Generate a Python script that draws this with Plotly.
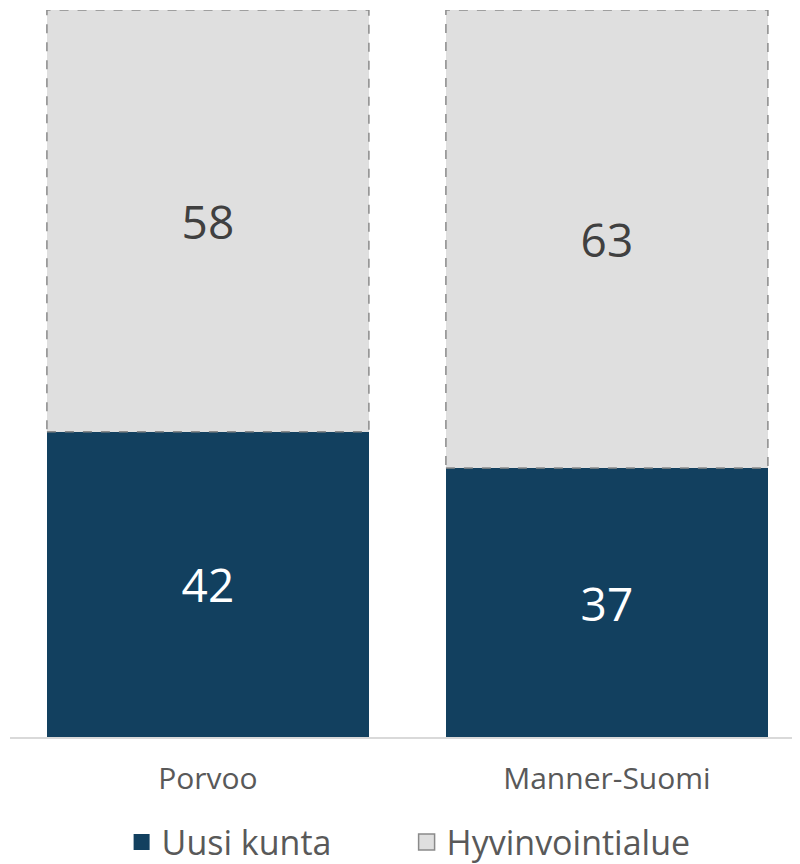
import plotly.graph_objects as go

categories = ["Porvoo", "Manner-Suomi"]
uusi_kunta = [42, 37]
hyvinvointialue = [58, 63]
series_names = ["Uusi kunta", "Hyvinvointialue"]

DARK = "#12405F"
GREY = "#DFDFDF"
FONT = "Open Sans"
BAR_W = 0.807

fig = go.Figure()
fig.add_trace(go.Bar(
    x=categories, y=uusi_kunta, name=series_names[0], showlegend=False,
    marker=dict(color=DARK, line=dict(width=0)), width=BAR_W,
    text=[str(v) for v in uusi_kunta], textposition="inside",
    insidetextanchor="middle",
    textfont=dict(color="white", size=46, family=FONT),
))
fig.add_trace(go.Bar(
    x=categories, y=hyvinvointialue, name=series_names[1], showlegend=False,
    marker=dict(color=GREY, line=dict(width=0)), width=BAR_W,
    text=[str(v) for v in hyvinvointialue], textposition="inside",
    insidetextanchor="middle",
    textfont=dict(color="#404040", size=46, family=FONT),
))

# legend entries with larger square symbols
fig.add_trace(go.Scatter(x=[None], y=[None], mode="markers", name=series_names[0],
                         marker=dict(symbol="square", size=19, color=DARK)))
fig.add_trace(go.Scatter(x=[None], y=[None], mode="markers", name=series_names[1],
                         marker=dict(symbol="square", size=19, color=GREY,
                                     line=dict(color="#8A8A8A", width=1.5))))

# dashed outline around the grey segments, derived from data
for i, (base, v) in enumerate(zip(uusi_kunta, hyvinvointialue)):
    fig.add_shape(type="rect", xref="x", yref="y",
                  x0=i - BAR_W / 2, x1=i + BAR_W / 2, y0=base, y1=base + v,
                  line=dict(color="#8A8A8A", width=1.5, dash="dash"),
                  fillcolor="rgba(0,0,0,0)", layer="above")

fig.update_layout(
    barmode="stack",
    width=800, height=864,
    margin=dict(l=2, r=0, t=2, b=135),
    plot_bgcolor="white", paper_bgcolor="white",
    showlegend=True,
    legend=dict(orientation="h", x=0.497, xanchor="center", y=-0.145, yanchor="middle",
                font=dict(size=34, color="#595959", family=FONT),
                itemwidth=30, traceorder="normal", itemsizing="trace",
                entrywidth=240, entrywidthmode="pixels"),
    xaxis=dict(range=[-0.496, 1.504], showgrid=False, showline=True,
               linecolor="#D9D9D9", linewidth=2, ticks="",
               ticklabelstandoff=14,
               tickfont=dict(size=30, color="#595959", family=FONT)),
    yaxis=dict(range=[0, 100], visible=False),
    uniformtext=dict(mode="show", minsize=10),
)

fig.write_html("out.html")
